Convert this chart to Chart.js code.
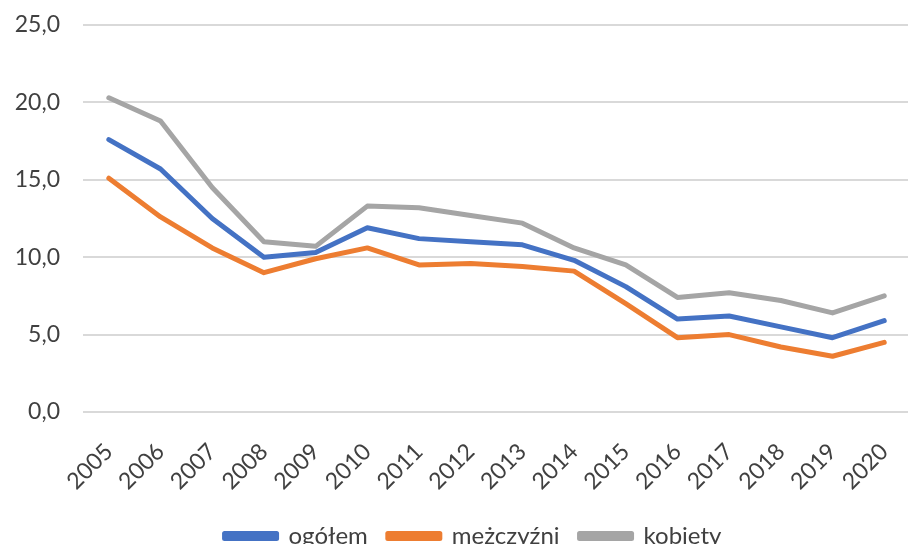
<!DOCTYPE html>
<html>
<head>
<meta charset="utf-8">
<script src="https://cdn.jsdelivr.net/npm/chart.js@4/dist/chart.umd.min.js"></script>
<style>
  html, body { margin: 0; padding: 0; background: #fff; overflow: hidden; }
  #wrap { position: absolute; left: 0; top: 0; width: 930px; height: 558px; }
</style>
</head>
<body>
<div id="wrap"><canvas id="line-chart"></canvas></div>
<script>
var lata = ['2005','2006','2007','2008','2009','2010','2011','2012','2013','2014','2015','2016','2017','2018','2019','2020'];
var ogolem    = [17.6, 15.7, 12.5, 10.0, 10.3, 11.9, 11.2, 11.0, 10.8, 9.8, 8.1, 6.0, 6.2, 5.5, 4.8, 5.9];
var mezczyzni = [15.1, 12.6, 10.6, 9.0, 9.9, 10.6, 9.5, 9.6, 9.4, 9.1, 7.0, 4.8, 5.0, 4.2, 3.6, 4.5];
var kobiety   = [20.3, 18.8, 14.5, 11.0, 10.7, 13.3, 13.2, 12.7, 12.2, 10.6, 9.5, 7.4, 7.7, 7.2, 6.4, 7.5];

var fontFam = 'Lato, "Open Sans", sans-serif';
var txtColor = '#404040';

function serie(label, data, color){
    return {
        label: label,
        data: data,
        borderColor: color,
        backgroundColor: color,
        borderWidth: 5,
        pointRadius: 0,
        pointHoverRadius: 0,
        tension: 0,
        borderCapStyle: 'round',
        borderJoinStyle: 'round',
        fill: false
    };
}

// przesuniecie legendy troche w prawo, jak w oryginale
var legendShift = {
    id: 'legendShift',
    afterLayout: function(chart){
        if (chart.legend) {
            chart.legend.left += 12;
            chart.legend.right += 12;
        }
    }
};

new Chart(document.getElementById('line-chart'), {
    type: 'line',
    data: {
        labels: lata,
        datasets: [
            serie('ogółem', ogolem, '#4472C4'),
            serie('mężczyźni', mezczyzni, '#ED7D31'),
            serie('kobiety', kobiety, '#A5A5A5')
        ]
    },
    options: {
        responsive: true,
        maintainAspectRatio: false,
        animation: false,
        layout: { padding: { top: 25, left: 0, right: 8, bottom: 0 } },
        plugins: {
            legend: {
                position: 'bottom',
                labels: {
                    boxWidth: 52,
                    boxHeight: 5,
                    padding: 20,
                    color: txtColor,
                    font: { family: fontFam, size: 24 }
                }
            },
            tooltip: { enabled: false }
        },
        scales: {
            x: {
                offset: true,
                grid: { display: false, drawTicks: false },
                border: { display: false },
                ticks: {
                    minRotation: 45,
                    maxRotation: 45,
                    padding: 26,
                    color: txtColor,
                    font: { family: fontFam, size: 23 }
                },
                afterFit: function(s){ s.height = 92; }
            },
            y: {
                min: 0,
                max: 25,
                grid: { color: '#d9d9d9', lineWidth: 2, drawTicks: false },
                border: { display: false },
                ticks: {
                    stepSize: 5,
                    padding: 23,
                    color: txtColor,
                    font: { family: fontFam, size: 23 },
                    callback: function(v){ return v.toFixed(1).replace('.', ','); }
                },
                afterFit: function(s){ s.width = 83; s.paddingTop = 14; s.paddingBottom = 14; }
            }
        }
    },
    plugins: [legendShift]
});
</script>
</body>
</html>
